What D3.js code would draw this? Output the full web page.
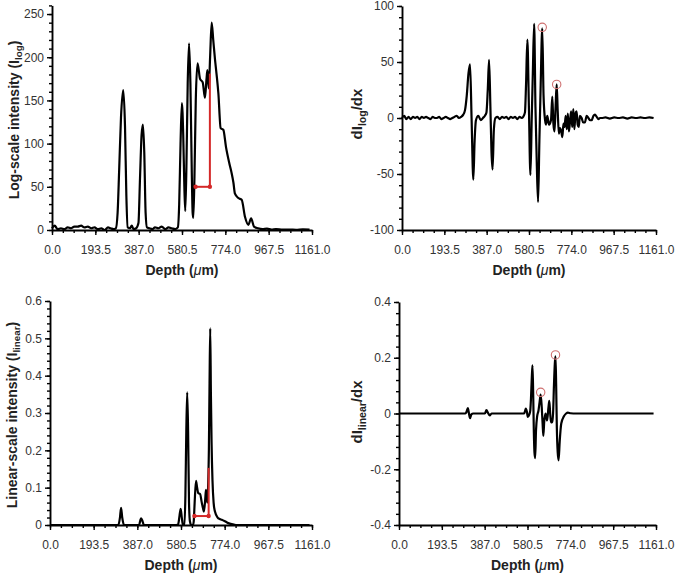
<!DOCTYPE html>
<html><head><meta charset="utf-8">
<script src="https://cdn.jsdelivr.net/npm/d3@7/dist/d3.min.js"></script>
<style>body{margin:0;background:#fff}svg{display:block}</style>
</head><body>
<svg id="chart" width="675" height="575"></svg>
<script>
// ---------- DATA ----------
const logDepth = [0,12,25,40,55,70,85,100,115,130,145,160,175,190,205,220,235,250,262,275,285,293,300,308,318,326,332,338,348,356,364,376,386,393,400,406,412,418,424,435,448,460,475,490,505,520,535,550,562,568,574,580,586,591,595,600,606,612,618,624,628,631,636,642,650,661,673,683,690,694,700,706,713,720,728,735,743,753,765,777,792,802,810,817,832,847,862,877,889,902,920,940,960,980,1000,1030,1060,1090,1120,1150];
const logIntensity = [2,5,1,2,1,3,2,4,4,5,3,4,2,3,1,2,0,3,2,1,2,20,70,130,162,120,40,3,2,5,1,2,8,60,110,122,90,20,3,2,1,3,2,4,1,3,2,1,3,30,100,147,110,50,22,70,170,216,170,70,20,14,60,150,193,175,171,153,175,185,164,200,240,220,197,180,158,118,116,96,77,66,55,42,37,35,15,6,13.5,4,2,1,1.5,0.5,1,0.5,0.5,0.3,0.8,0.5];

const dLogDepth = [0,10,20,30,40,50,60,70,80,90,100,110,120,130,140,150,160,170,180,190,200,210,220,230,240,250,260,270,280,288,296,304,311,318,326,332,338,349,360,370,379,386,392,398,404,409,414,420,427,437,447,457,467,477,487,497,507,517,527,537,547,554,562,567,573,580,587,593,598,604,610,616,622,628,634,641,647,654,658,664,672,681,687,692,697,702,707,712,717,722,728,733,738,743,748,753,758,763,768,773,778,783,788,793,798,803,808,813,821,828,836,844,852,860,867,875,882,890,898,905,913,930,950,970,990,1010,1030,1050,1070,1090,1110,1130,1150];
const dLogValues = [0,2,-1,1,-1,1,0,1,-1,1,0,1,0,-1,1,0,0,1,-1,0,1,0,-1,0,1,2,0,1,3,7,20,40,48,0,-55,-20,-2,2,-2,0,2,5,25,52,10,-30,-46,-10,0,1,-1,1,0,1,-1,1,0,1,-1,1,0,1,5,30,70,10,-51,0,40,84,10,-40,-75,-20,30,80,20,-2,-6,2,-6,-2,19,-5,-12,10,30,5,-14,-9,-12,-17,-5,-8,2,-10,4,-12,-3,6,-8,8,-10,4,6,-6,-8,2,0,-4,-4,2,0,-2,-2,2,3,1,-1,0,0,0.5,-0.5,0.5,0,0.5,-0.5,0.5,0,0.5,0,0.5,0];

const linDepth = [0,290,303,310,315,320,328,340,395,400,404,410,416,560,568,574,579,584,589,596,600,604,608,612,616,620,626,634,637,641,647,652,657,665,672,678,682,688,691,697,700,704,707,710,713,716,720,725,731,743,752,761,775,790,810,830,1150];
const linIntensity = [0,0,0,0.02,0.046,0.02,0,0,0,0.012,0.018,0.01,0,0,0.002,0.025,0.043,0.02,0,0,0.08,0.25,0.355,0.25,0.06,0.01,0,0,0.01,0.06,0.118,0.1,0.085,0.083,0.062,0.045,0.036,0.07,0.094,0.06,0.09,0.2,0.38,0.527,0.35,0.22,0.12,0.06,0.036,0.02,0.016,0.014,0.01,0.005,0.002,0,0];

const dLinDepth = [0,300,306,311,316,321,327,335,388,395,402,410,418,565,570,573,578,582,588,593,596,600,603,606,609,612,615,619,624,630,635,640,645,649,652,656,662,669,675,679,683,687,692,696,700,704,707,710,713,717,721,726,733,745,755,763,775,800,1150];
const dLinValues = [0,0,0.008,0.019,0,-0.017,-0.003,0,0,0.012,0.002,-0.007,0,0,0.01,0.018,0.005,-0.012,-0.005,0.01,0.05,0.13,0.173,0.08,-0.06,-0.14,-0.16,-0.06,-0.01,0.01,0.04,0.068,0.02,-0.04,-0.08,-0.03,0,-0.025,0.02,0.045,0,-0.032,-0.03,0,0.1,0.18,0.205,0.1,-0.05,-0.14,-0.168,-0.1,-0.036,-0.01,0,0.003,0.001,0,0];

// annotations (data units)
const logBracket = {x1: 641, x2: 705, y: 50, yTop: 181};
const linBracket = {x1: 640, x2: 703, y: 0.024, yTop: 0.153};
const dLogMarks = [[641, 81], [707, 30]];
const dLinMarks = [[640, 0.076], [707, 0.21]];

// ticks
const depthTicks = [0, 193.5, 387, 580.5, 774, 967.5, 1161];
const depthTickLabels = ["0.0", "193.5", "387.0", "580.5", "774.0", "967.5", "1161.0"];
const logTicks = [0, 50, 100, 150, 200, 250];
const logTickLabels = ["0", "50", "100", "150", "200", "250"];
const dLogTicks = [-100, -50, 0, 50, 100];
const dLogTickLabels = ["-100", "-50", "0", "50", "100"];
const linTicks = [0, 0.1, 0.2, 0.3, 0.4, 0.5, 0.6];
const linTickLabels = ["0", "0.1", "0.2", "0.3", "0.4", "0.5", "0.6"];
const dLinTicks = [-0.4, -0.2, 0, 0.2, 0.4];
const dLinTickLabels = ["-0.4", "-0.2", "0", "0.2", "0.4"];

// ---------- DRAW ----------
const FONT = "'Liberation Sans', Arial, Helvetica, sans-serif";
const svg = d3.select("#chart");
const RED = "#d42828";

function panel(cfg) {
  const x = d3.scaleLinear().domain([0, 1161]).range([cfg.left, cfg.right]);
  const y = d3.scaleLinear().domain(cfg.yDomain).range([cfg.bottom, cfg.top]);
  const g = svg.append("g");

  // minor ticks
  const xMinor = d3.range(0, 1161.01, 48.375);
  g.append("g").attr("transform", `translate(0,${cfg.bottom})`)
    .call(d3.axisBottom(x).tickValues(xMinor).tickSize(3).tickFormat("").tickSizeOuter(0))
    .call(s => s.select(".domain").remove());
  const yMinor = d3.range(cfg.yDomain[0], cfg.yDomain[1] + cfg.yMinor * 0.01, cfg.yMinor);
  g.append("g").attr("transform", `translate(${cfg.left},0)`)
    .call(d3.axisLeft(y).tickValues(yMinor).tickSize(3).tickFormat("").tickSizeOuter(0))
    .call(s => s.select(".domain").remove());

  // major axes
  g.append("g").attr("transform", `translate(0,${cfg.bottom})`)
    .call(d3.axisBottom(x).tickValues(depthTicks).tickSize(5).tickPadding(10).tickSizeOuter(0)
      .tickFormat((d, i) => depthTickLabels[i]));
  g.append("g").attr("transform", `translate(${cfg.left},0)`)
    .call(d3.axisLeft(y).tickValues(cfg.yTicks).tickSize(5).tickPadding(3).tickSizeOuter(0)
      .tickFormat((d, i) => cfg.yLabels[i]));
  g.selectAll(".tick line").attr("stroke", "#000").attr("stroke-width", 1.4);
  g.selectAll(".domain").attr("stroke", "#000").attr("stroke-width", 1.9);
  g.selectAll(".tick text").attr("font-family", FONT).attr("font-size", 12).attr("fill", "#333");

  // curve
  const pts = cfg.xs.map((d, i) => [d, cfg.ys[i]]);
  g.append("path").datum(pts)
    .attr("fill", "none").attr("stroke", "#000").attr("stroke-width", 2.2)
    .attr("stroke-linejoin", "round")
    .attr("d", d3.line().x(d => x(d[0])).y(d => y(d[1])).curve(d3.curveMonotoneX));

  // bracket annotation
  if (cfg.bracket) {
    const b = cfg.bracket;
    g.append("line").attr("x1", x(b.x2)).attr("x2", x(b.x2)).attr("y1", y(b.y)).attr("y2", y(b.yTop))
      .attr("stroke", RED).attr("stroke-width", 2);
    g.append("line").attr("x1", x(b.x1)).attr("x2", x(b.x2)).attr("y1", y(b.y)).attr("y2", y(b.y))
      .attr("stroke", RED).attr("stroke-width", 2);
    g.selectAll(".bdot").data([b.x1, b.x2]).join("circle")
      .attr("cx", d => x(d)).attr("cy", y(b.y)).attr("r", 2.2).attr("fill", RED);
  }
  if (cfg.marks) {
    g.selectAll(".mk").data(cfg.marks).join("circle")
      .attr("cx", d => x(d[0])).attr("cy", d => y(d[1])).attr("r", 4.2)
      .attr("fill", "none").attr("stroke", "#cf7070").attr("stroke-width", 1.1);
  }

  // x title
  const xt = g.append("text").attr("x", (cfg.left + cfg.right) / 2).attr("y", cfg.bottom + 45)
    .attr("text-anchor", "middle").attr("font-family", FONT).attr("font-weight", "bold")
    .attr("font-size", 14).attr("fill", "#222");
  xt.append("tspan").text("Depth (");
  xt.append("tspan").attr("font-style", "italic").attr("font-weight", "normal").text("\u03bc");
  xt.append("tspan").text("m)");

  // y title
  const yt = g.append("text")
    .attr("transform", `translate(${cfg.yTitleX},${cfg.yTitleY}) rotate(-90)`)
    .attr("text-anchor", "middle").attr("font-family", FONT).attr("font-weight", "bold")
    .attr("font-size", cfg.yTitleSize).attr("fill", "#222");
  yt.append("tspan").text(cfg.yTitle[0]);
  yt.append("tspan").attr("font-size", cfg.yTitleSize * 0.7).attr("dy", "0.35em").text(cfg.yTitle[1]);
  yt.append("tspan").attr("dy", "-0.25em").text(cfg.yTitle[2]);
}

panel({left: 52, right: 312, top: 5.4, bottom: 230, yDomain: [0, 260], yMinor: 10,
  yTicks: logTicks, yLabels: logTickLabels, xs: logDepth, ys: logIntensity,
  bracket: logBracket, yTitle: ["Log-scale intensity (I", "log", ")"],
  yTitleX: 19, yTitleY: 120, yTitleSize: 14});

panel({left: 402, right: 656, top: 6, bottom: 230, yDomain: [-100, 100], yMinor: 10,
  yTicks: dLogTicks, yLabels: dLogTickLabels, xs: dLogDepth, ys: dLogValues,
  marks: dLogMarks, yTitle: ["dI", "log", "/dx"],
  yTitleX: 362, yTitleY: 114, yTitleSize: 15});

panel({left: 50, right: 312, top: 301, bottom: 525, yDomain: [0, 0.6], yMinor: 0.02,
  yTicks: linTicks, yLabels: linTickLabels, xs: linDepth, ys: linIntensity,
  bracket: linBracket, yTitle: ["Linear-scale intensity (I", "linear", ")"],
  yTitleX: 17, yTitleY: 415, yTitleSize: 14});

panel({left: 399, right: 656, top: 302, bottom: 525, yDomain: [-0.4, 0.4], yMinor: 0.04,
  yTicks: dLinTicks, yLabels: dLinTickLabels, xs: dLinDepth, ys: dLinValues,
  marks: dLinMarks, yTitle: ["dI", "linear", "/dx"],
  yTitleX: 362, yTitleY: 412, yTitleSize: 15});
</script>
</body></html>
